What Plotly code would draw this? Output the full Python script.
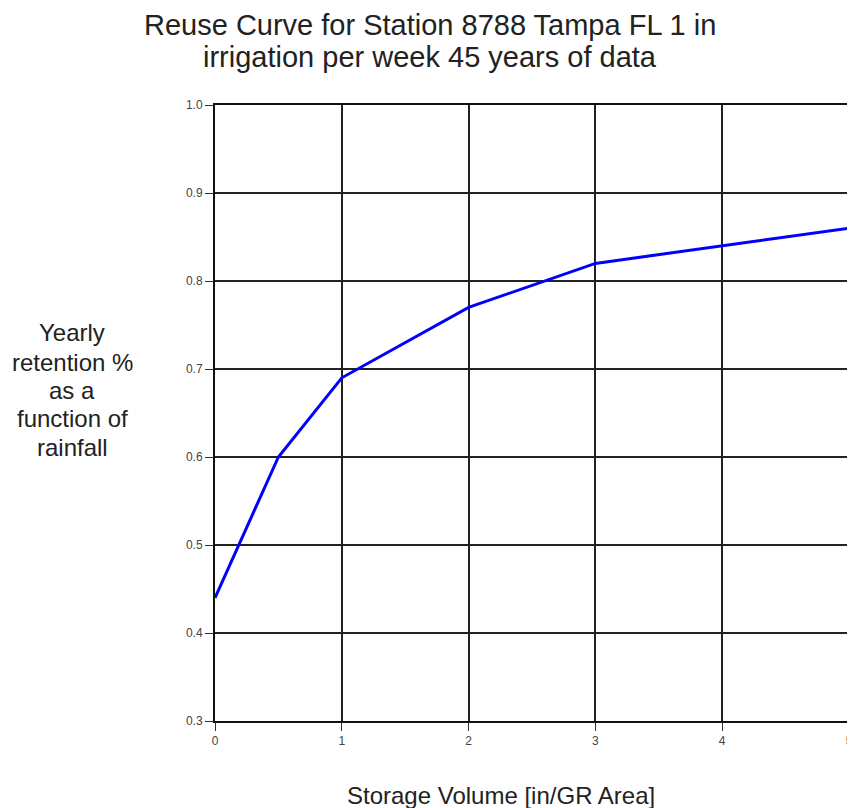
import plotly.graph_objects as go

storage = [0, 0.5, 1, 2, 3, 4, 5]
retention = [0.44, 0.60, 0.69, 0.77, 0.82, 0.84, 0.86]
x_ticks = [0, 1, 2, 3, 4, 5]
y_ticks = [0.3, 0.4, 0.5, 0.6, 0.7, 0.8, 0.9, 1.0]
title_lines = ['Reuse Curve for Station 8788 Tampa FL 1 in', 'irrigation per week 45 years of data']
ylabel_lines = ['Yearly', 'retention %', 'as a', 'function of', 'rainfall']
xlabel = 'Storage Volume [in/GR Area]'

# plot box in window pixels (page body adds 8px margin)
PX0, PX1, PY0, PY1 = 215, 849, 105, 721


def px(x):
    return (x - PX0) / (PX1 - PX0)


def py(y):
    return (PY1 - y) / (PY1 - PY0)


fig = go.Figure()
fig.add_trace(go.Scatter(x=storage, y=retention, mode='lines',
                         line=dict(color='#0000ff', width=3), showlegend=False))

fig.update_layout(
    width=847, height=800,
    margin=dict(l=207, r=6, t=97, b=87, autoexpand=False),
    paper_bgcolor='white', plot_bgcolor='white',
    font=dict(family='Liberation Sans, Arial, sans-serif', color='#222'),
)
fig.update_xaxes(range=[0, 5], tickvals=x_ticks, ticktext=[str(v) for v in x_ticks],
                 showgrid=True, gridcolor='#222', gridwidth=2, automargin=False,
                 showline=True, linecolor='#111', linewidth=2, mirror=True,
                 ticks='outside', ticklen=8, tickcolor='#333', tickwidth=1,
                 tickfont=dict(size=12, color='#444'), zeroline=False)
fig.update_yaxes(range=[0.3, 1.0], tickvals=y_ticks, ticktext=['%.1f' % v for v in y_ticks],
                 showgrid=True, gridcolor='#222', gridwidth=2, automargin=False,
                 showline=True, linecolor='#111', linewidth=2, mirror=True,
                 ticks='outside', ticklen=8, tickcolor='#333', tickwidth=1,
                 tickfont=dict(size=12, color='#444'), zeroline=False)

# title
for txt, yy in zip(title_lines, [25, 57]):
    fig.add_annotation(text=txt, xref='paper', yref='paper', x=px(430), y=py(yy),
                       xanchor='center', yanchor='middle', showarrow=False,
                       font=dict(size=29, color='#222'))
# x axis title
fig.add_annotation(text=xlabel, xref='paper', yref='paper', x=px(501), y=py(795),
                   xanchor='center', yanchor='middle', showarrow=False,
                   font=dict(size=24, color='#222'))
# y axis title, one line each
for txt, yy in zip(ylabel_lines, [332, 362, 390, 418, 447]):
    fig.add_annotation(text=txt, xref='paper', yref='paper', x=px(72), y=py(yy),
                       xanchor='center', yanchor='middle', showarrow=False,
                       font=dict(size=24, color='#222'))

fig.write_html("out.html")
